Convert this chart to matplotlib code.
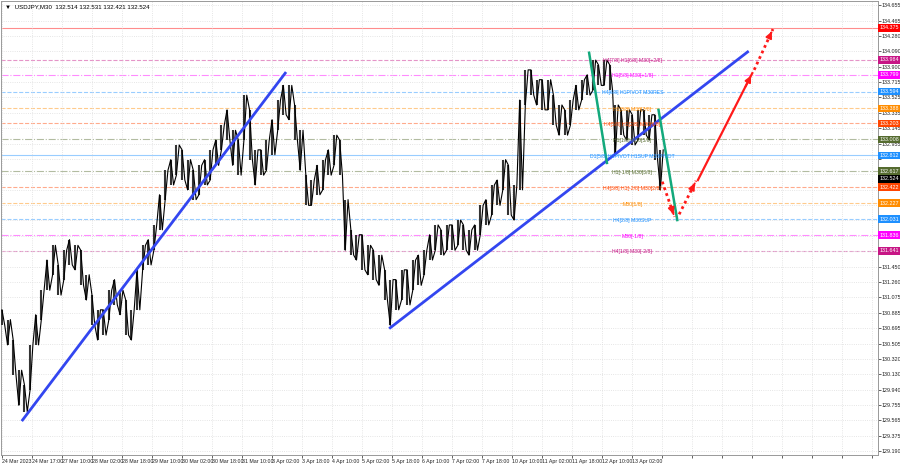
import numpy as np
import matplotlib.pyplot as plt
from matplotlib.transforms import blended_transform_factory

plt.rcParams["font.family"] = ["Liberation Sans Narrow", "Liberation Sans", "DejaVu Sans"]

bar_step = 6
high = [130.92, 130.80, 130.55, 130.18, 130.00, 130.49, 130.86, 131.16, 131.53, 131.71,
        131.47, 131.65, 131.78, 131.71, 131.65, 131.35, 131.10, 130.92, 130.92, 131.16,
        131.29, 131.16, 131.04, 130.92, 131.41, 131.71, 131.78, 131.96, 132.33, 132.63,
        132.76, 132.94, 132.88, 132.76, 132.63, 132.69, 132.76, 132.88, 133.00, 133.18,
        133.37, 133.12, 133.00, 133.55, 133.37, 132.88, 132.88, 133.00, 133.25, 133.49,
        133.67, 133.67, 133.43, 133.12, 132.57, 132.51, 132.69, 132.76, 132.88, 133.06,
        133.00, 132.27, 131.90, 131.84, 131.84, 131.71, 131.65, 131.59, 131.41, 131.29,
        131.29, 131.41, 131.41, 131.53, 131.59, 131.65, 131.84, 131.96, 131.90, 131.96,
        131.96, 132.02, 131.96, 131.90, 131.96, 132.20, 132.27, 132.45, 132.51, 132.76,
        132.69, 132.45, 133.49, 133.86, 133.86, 133.74, 133.74, 133.74, 133.55, 133.43,
        133.37, 133.49, 133.67, 133.74, 133.80, 133.98, 133.92, 133.98, 133.92, 133.43,
        133.37, 133.37, 133.31, 133.37, 133.37, 133.31, 133.31, 132.88]
low = [130.73, 130.49, 130.12, 129.75, 129.67, 129.94, 130.49, 130.80, 131.16, 131.35,
       131.10, 131.29, 131.47, 131.41, 131.22, 131.04, 130.73, 130.55, 130.61, 130.80,
       130.98, 130.86, 130.61, 130.55, 130.92, 131.41, 131.47, 131.65, 131.90, 132.27,
       132.45, 132.57, 132.51, 132.39, 132.27, 132.33, 132.45, 132.51, 132.69, 132.88,
       133.00, 132.69, 132.57, 133.00, 132.76, 132.45, 132.57, 132.63, 132.82, 133.12,
       133.31, 133.25, 133.00, 132.63, 132.20, 132.20, 132.33, 132.39, 132.57, 132.69,
       132.57, 131.65, 131.59, 131.53, 131.41, 131.35, 131.29, 131.22, 131.04, 130.73,
       130.92, 131.04, 130.98, 131.16, 131.22, 131.35, 131.53, 131.65, 131.59, 131.65,
       131.65, 131.71, 131.65, 131.59, 131.65, 131.84, 131.96, 132.08, 132.20, 132.39,
       132.08, 132.02, 132.39, 133.43, 133.55, 133.43, 133.37, 133.37, 133.18, 133.06,
       133.06, 133.18, 133.37, 133.49, 133.55, 133.61, 133.67, 133.67, 133.61, 132.82,
       133.06, 133.00, 132.94, 133.00, 133.06, 133.00, 132.76, 132.39]
last_price = 132.524
title = "▼  USDJPY,M30  132.514 132.531 132.421 132.524"

x_labels = ["24 Mar 2023", "24 Mar 17:00", "27 Mar 10:00", "28 Mar 02:00", "28 Mar 18:00",
            "29 Mar 10:00", "30 Mar 02:00", "30 Mar 18:00", "31 Mar 10:00", "3 Apr 02:00",
            "3 Apr 18:00", "4 Apr 10:00", "5 Apr 02:00", "5 Apr 18:00", "6 Apr 10:00",
            "7 Apr 02:00", "7 Apr 18:00", "10 Apr 10:00", "11 Apr 02:00", "11 Apr 18:00",
            "12 Apr 10:00", "13 Apr 02:00"]
label_step = 32
y_ticks = [134.655, 134.465, 134.280, 134.090, 133.900, 133.715, 133.525, 133.335, 133.145,
           132.955, 132.770, 132.580, 132.390, 132.205, 132.015, 131.825, 131.640, 131.450,
           131.260, 131.075, 130.885, 130.695, 130.505, 130.320, 130.130, 129.940, 129.755,
           129.565, 129.375, 129.190]

# Murrey math levels
level_prices = [134.375, 133.984, 133.799, 133.594, 133.388, 133.203, 133.008,
                132.812, 132.617, 132.422, 132.227, 132.031, 131.836, 131.641]
level_names = ["", "H4[7/8] H1[6/8] M30[+2/8]", "H1[5/8] M30[+1/8]", "H4[6/8] H1PIVOT M30RES",
               "H1[3/8] M30[7/8]", "H4[5/8] H1[2/8] M30[6/8]", "H1[1/8] M30[5/8]",
               "D1[5/8] H1PIVOT H1SUP M30PIVOT", "H1[-1/8] M30[3/8]", "H4[3/8] H1[-2/8] M30[2/8]",
               "M30[1/8]", "H4[2/8] M30SUP", "M30[-1/8]", "H4[1/8] M30[-2/8]"]
level_colors = ["#ff0000", "#c71585", "#ff00ff", "#1e90ff", "#ff8c00", "#ff4500", "#556b2f",
                "#1e90ff", "#556b2f", "#ff4500", "#ff8c00", "#1e90ff", "#ff00ff", "#c71585"]
level_styles = ["-", "--", "-.", "--", "--", "--", "-.", "-", "-.", "--", "--", "--", "-.", "--"]
label_bar = 672

# trend lines and forecast (bar index, price)
trend_bars = [(22, 302), (414, 795)]
trend_prices = [(129.57, 133.82), (130.70, 134.08)]
green_bars = [(626, 645), (700, 720)]
green_prices = [(134.07, 132.72), (133.37, 132.02)]
dotted_bars = [(704, 717), (722, 740), (802, 822)]
dotted_prices = [(132.49, 132.06), (132.09, 132.50), (133.86, 134.36)]
solid_bars = [(742, 800)]
solid_prices = [(132.51, 133.82)]

fig = plt.figure(figsize=(9, 4.68), dpi=100)
ax = fig.add_axes([1 / 900, 13 / 468, 877 / 900, 454 / 468])
ax.set_xlim(-1, 934)
ax.set_ylim(129.141, 134.704)

# grid and axes
xt = np.arange(0, 935, label_step)
ax.set_xticks(xt)
ax.set_xticklabels(x_labels + [""] * (len(xt) - len(x_labels)), fontsize=3.8, ha="left")
ax.set_yticks(y_ticks)
# price scale labels hidden where a level box sits on them
shown = [f"{v:.3f}" if min(abs(v - q) for q in level_prices + [last_price]) > 0.05 else ""
         for v in y_ticks]
ax.set_yticklabels(shown, fontsize=3.9)
ax.yaxis.tick_right()
ax.tick_params(axis="both", length=2, width=0.5, pad=0.8, colors="#222222")
ax.grid(True, color="#dddddd", ls=":", lw=0.6)
for s in ax.spines.values():
    s.set_color("#999999")
    s.set_linewidth(0.7)

# levels
trans = blended_transform_factory(ax.transAxes, ax.transData)
for p, name, c, st in zip(level_prices, level_names, level_colors, level_styles):
    ax.axhline(p, color=c, ls=st, lw=0.8, alpha=0.45, zorder=1)
    if name:
        ax.text(label_bar, p - 0.012, name, color=c, fontsize=3.7, ha="center", va="center", zorder=5)
    ax.text(1.002, p, f"{p:.3f}", transform=trans, color="white", fontsize=3.9, va="center",
            ha="left", clip_on=False, zorder=6,
            bbox=dict(boxstyle="square,pad=0.25", fc=c, ec="none"))
ax.text(1.002, last_price, f"{last_price:.3f}", transform=trans, color="white", fontsize=3.9,
        va="center", ha="left", clip_on=False, zorder=7,
        bbox=dict(boxstyle="square,pad=0.25", fc="black", ec="none"))

# candles: every sample drawn as its high-low range, joined as a jagged path
bars = np.arange(len(high)) * bar_step
ax.vlines(bars, low, high, color="#333333", lw=1.5, zorder=3)
zx, zy = [], []
for i, (b, h, l) in enumerate(zip(bars, high, low)):
    zx += [b, b + bar_step / 2]
    zy += [h, l] if i % 2 == 0 else [l, h]
ax.plot(zx, zy, color="black", lw=0.8, zorder=3)

# trend lines
for b, p in zip(trend_bars, trend_prices):
    ax.plot(b, p, color="#3346f0", lw=2.0, zorder=4)
for b, p in zip(green_bars, green_prices):
    ax.plot(b, p, color="#13a97c", lw=1.8, zorder=4)


def head(b, p):
    ax.annotate("", xy=(b[1], p[1]),
                xytext=(b[1] - 0.15 * (b[1] - b[0]), p[1] - 0.15 * (p[1] - p[0])),
                arrowprops=dict(arrowstyle="-|>", color="#ff1a1a", lw=1.4, mutation_scale=9),
                zorder=5)


for b, p in zip(dotted_bars, dotted_prices):
    ax.plot(b, p, color="#ff1a1a", lw=2.0, ls=(0, (1, 1.2)), zorder=5)
    head(b, p)
for b, p in zip(solid_bars, solid_prices):
    ax.plot(b, p, color="#ff1a1a", lw=1.6, zorder=5)
    head(b, p)

ax.text(0.004, 0.992, title, transform=ax.transAxes, fontsize=4.4, va="top", ha="left")

fig.savefig("out.png", dpi=100)
